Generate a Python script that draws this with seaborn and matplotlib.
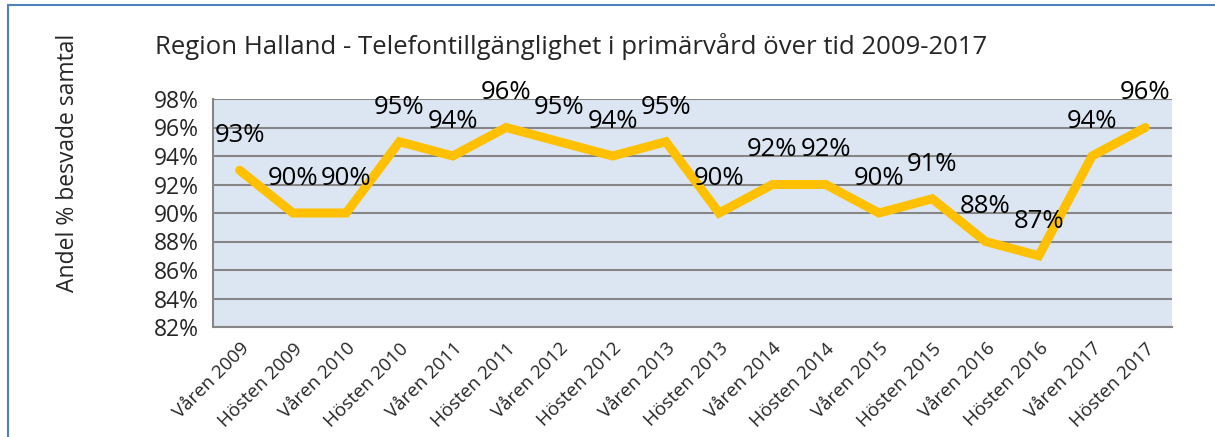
import numpy as np
import pandas as pd
import matplotlib
matplotlib.use("Agg")
import matplotlib.pyplot as plt
from matplotlib.lines import Line2D
from matplotlib.ticker import FuncFormatter, FixedLocator
import seaborn as sns

sns.set_style("white")
plt.rcParams['font.family'] = ['Open Sans', 'DejaVu Sans']

# data
perioder = ["Våren 2009", "Hösten 2009", "Våren 2010", "Hösten 2010", "Våren 2011",
            "Hösten 2011", "Våren 2012", "Hösten 2012", "Våren 2013", "Hösten 2013",
            "Våren 2014", "Hösten 2014", "Våren 2015", "Hösten 2015", "Våren 2016",
            "Hösten 2016", "Våren 2017", "Hösten 2017"]
andel = [93, 90, 90, 95, 94, 96, 95, 94, 95, 90, 92, 92, 90, 91, 88, 87, 94, 96]
titel = "Region Halland - Telefontillgänglighet i primärvård över tid 2009-2017"
ylabel = "Andel % besvade samtal"

df = pd.DataFrame({"period": perioder, "andel": andel})
df["x"] = np.arange(len(df))

fig = plt.figure(figsize=(12.15, 4.37), dpi=100)
ax = fig.add_axes([213/1215, 1 - 327/437, (1172-213)/1215, (327-99)/437])
ax.set_facecolor("#DCE6F2")

ax.set_ylim(82, 98)
ax.set_xlim(-0.5, len(df) - 0.5)
ax.yaxis.set_major_locator(FixedLocator(np.arange(82, 99, 2)))
ax.yaxis.set_major_formatter(FuncFormatter(lambda v, p: f"{v:.0f}%"))
ax.grid(axis="y", color="#868686", linewidth=1.5)
ax.set_axisbelow(True)

sns.lineplot(data=df, x="x", y="andel", ax=ax, color="#FFC000", linewidth=6.5,
             solid_joinstyle="miter", solid_capstyle="round", zorder=3)

for xi, v in zip(df["x"], df["andel"]):
    ax.annotate(f"{v}%", (xi, v), xytext=(0, 25), textcoords="offset points",
                ha="center", va="center", fontsize=18.5, color="black", zorder=4,
                annotation_clip=False)

ax.set_xticks(df["x"])
ax.set_xticklabels(perioder, rotation=45, ha="right", rotation_mode="anchor", fontsize=13.5)
ax.set_xticks(np.arange(-0.5, len(df), 1), minor=True)
ax.tick_params(axis="x", which="major", length=0, pad=9)
ax.tick_params(axis="x", which="minor", length=6, width=1.5, color="#868686", direction="out")
ax.tick_params(axis="y", length=6, width=1.5, color="#868686", direction="out", labelsize=16.5, pad=4)
ax.set_xlabel("")
ax.set_ylabel(ylabel, fontsize=16.5)
ax.yaxis.set_label_coords(-133/959, 0.72)

for s in ["top", "right"]:
    ax.spines[s].set_visible(False)
for s in ["left", "bottom"]:
    ax.spines[s].set_color("#868686")
    ax.spines[s].set_linewidth(1.5)

fig.text(155/1215, 1 - 47/437, titel, fontsize=18.5, ha="left", va="center")

# chart border
fig.add_artist(Line2D([8/1215, 8/1215], [0, 1 - 5/437], color="#4F81BD", linewidth=1.5))
fig.add_artist(Line2D([8/1215, 1], [1 - 5/437, 1 - 5/437], color="#4F81BD", linewidth=1.5))

fig.savefig("out.png", dpi=100)
